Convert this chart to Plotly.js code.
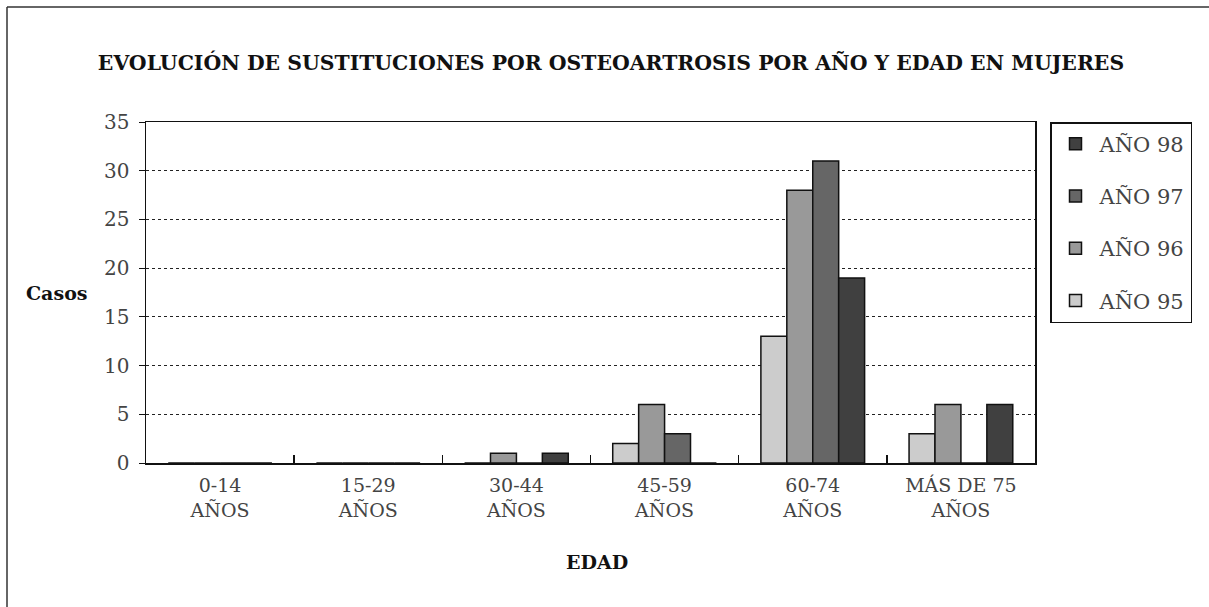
<!DOCTYPE html>
<html>
<head>
<meta charset="utf-8">
<script src="https://cdn.plot.ly/plotly-3.0.1.min.js"></script>
<style>html,body{margin:0;padding:0;background:#fff;}#chart{width:1209px;height:607px;}</style>
</head>
<body>
<div id="chart"></div>
<script>
const categories = ["0-14<br>AÑOS", "15-29<br>AÑOS", "30-44<br>AÑOS", "45-59<br>AÑOS", "60-74<br>AÑOS", "MÁS DE 75<br>AÑOS"];
const seriesNames = ["AÑO 95", "AÑO 96", "AÑO 97", "AÑO 98"];
const ano95 = [0, 0, 0, 2, 13, 3];
const ano96 = [0, 0, 1, 6, 28, 6];
const ano97 = [0, 0, 0, 3, 31, 0];
const ano98 = [0, 0, 1, 0, 19, 6];
const yTicks = [0, 5, 10, 15, 20, 25, 30, 35];
const colors = ["#cccccc", "#999999", "#666666", "#404040"];

const W = 1209, H = 607;
const L = 146, R = 1035, T = 122, B = 463;
const pw = R - L, ph = B - T;
const px = x => (x - L) / pw;
const py = y => (B - y) / ph;

const serif = "DejaVu Serif, serif";
const values = [ano95, ano96, ano97, ano98];
const traces = values.map((v, i) => ({
  type: "bar",
  name: seriesNames[i],
  x: categories,
  y: v,
  legendgroup: "g" + i,
  legendrank: 100 - i,
  marker: {color: colors[i], line: {color: "#111", width: 1.5}}
}));

const layout = {
  width: W, height: H,
  margin: {l: L, r: W - R, t: T, b: H - B, pad: 0},
  paper_bgcolor: "#fff", plot_bgcolor: "#fff",
  barmode: "group", bargap: 0.3, bargroupgap: 0,
  showlegend: true,
  title: {
    text: "<b>EVOLUCIÓN DE SUSTITUCIONES POR OSTEOARTROSIS POR AÑO Y EDAD EN MUJERES</b>",
    font: {family: serif, size: 20.4, color: "#111"},
    xref: "container", yref: "container",
    x: 611 / W, y: 1 - 63 / H, xanchor: "center", yanchor: "middle"
  },
  xaxis: {
    type: "category",
    showline: true, linecolor: "#111", linewidth: 1.5, mirror: true,
    ticks: "inside", ticklen: 8, tickcolor: "#111", tickwidth: 1.5,
    tickson: "boundaries",
    showgrid: false,
    tickfont: {family: serif, size: 19, color: "#444"},
    ticklabelstandoff: 5
  },
  yaxis: {
    range: [0, 35], tickvals: yTicks,
    showline: true, linecolor: "#111", linewidth: 1.5, mirror: true,
    ticks: "outside", ticklen: 6, tickcolor: "#111", tickwidth: 1,
    showgrid: true, gridcolor: "#222", gridwidth: 1, griddash: "dot",
    zeroline: false,
    tickfont: {family: serif, size: 20, color: "#444"},
    ticklabelstandoff: 5
  },
  legend: {
    x: px(1050), y: 1, xanchor: "left", yanchor: "top",
    bgcolor: "#fff", bordercolor: "#111", borderwidth: 1.5,
    traceorder: "grouped", tracegroupgap: 22,
    font: {family: serif, size: 21, color: "#444"},
    itemwidth: 38
  },
  annotations: [
    {text: "<b>Casos</b>", xref: "paper", yref: "paper", x: px(57), y: py(293),
     xanchor: "center", yanchor: "middle", showarrow: false,
     font: {family: serif, size: 19, color: "#111"}},
    {text: "<b>EDAD</b>", xref: "paper", yref: "paper", x: px(597), y: py(562),
     xanchor: "center", yanchor: "middle", showarrow: false,
     font: {family: serif, size: 19, color: "#111"}}
  ],
  shapes: [
    {type: "line", xref: "paper", yref: "paper", x0: px(7), x1: px(W), y0: py(7), y1: py(7),
     line: {color: "#333", width: 1.5}},
    {type: "line", xref: "paper", yref: "paper", x0: px(7), x1: px(7), y0: py(7), y1: py(H),
     line: {color: "#333", width: 1.5}}
  ]
};

Plotly.newPlot("chart", traces, layout, {displayModeBar: false, staticPlot: true});
</script>
</body>
</html>
